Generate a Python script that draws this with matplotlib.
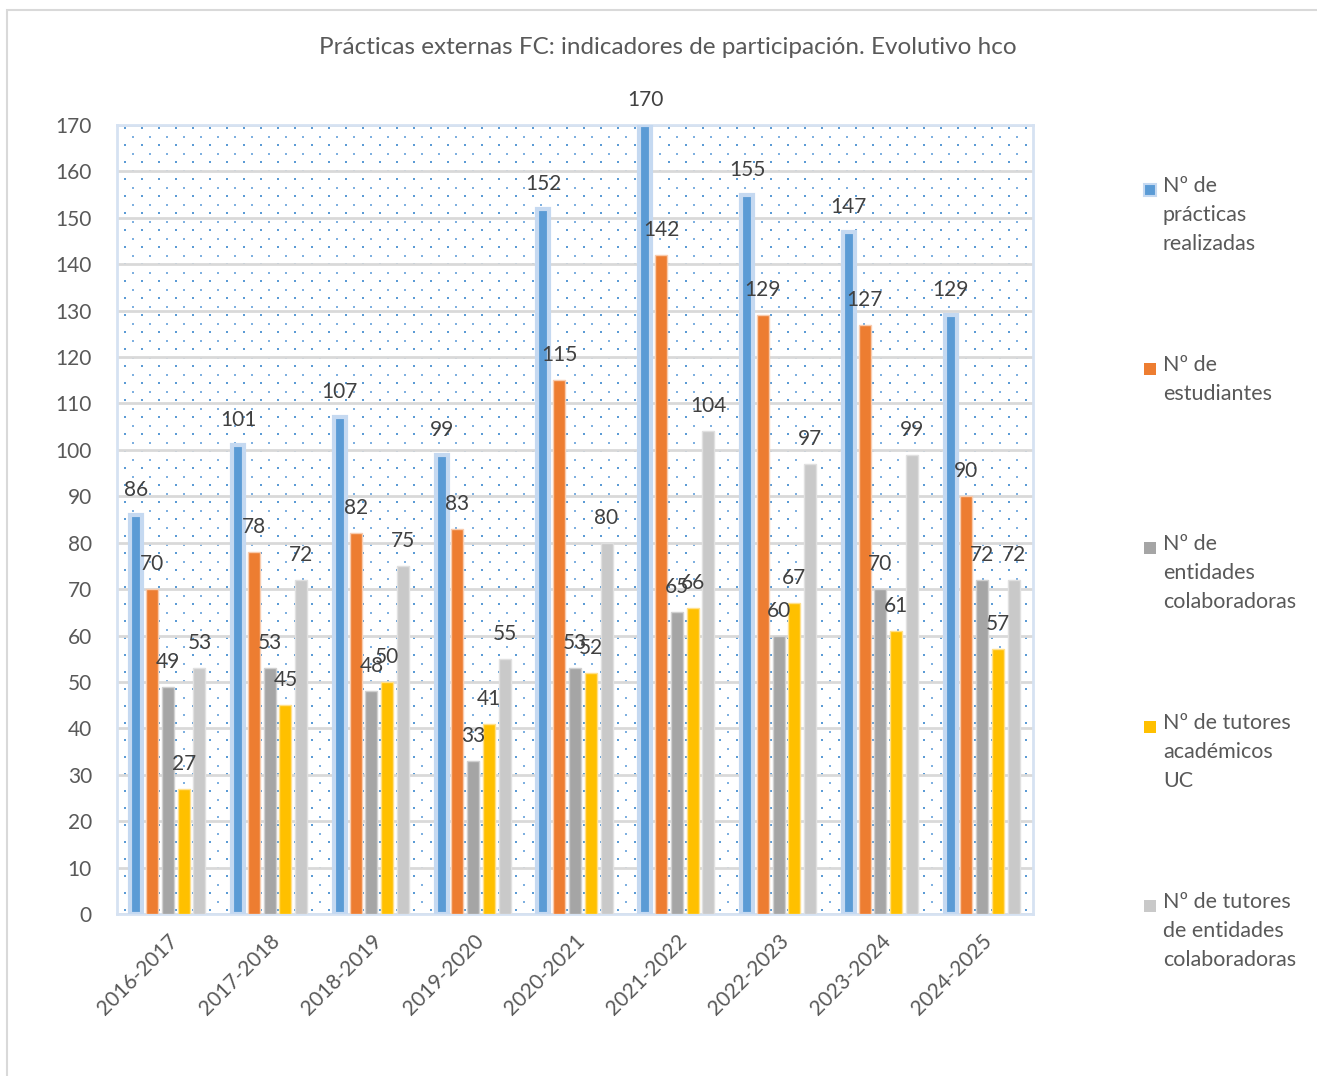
import numpy as np
import matplotlib.pyplot as plt
from matplotlib.patches import Rectangle

plt.rcParams['font.family'] = ['Lato', 'DejaVu Sans']

# Data
cursos = ['2016-2017', '2017-2018', '2018-2019', '2019-2020', '2020-2021',
          '2021-2022', '2022-2023', '2023-2024', '2024-2025']
practicas = [86, 101, 107, 99, 152, 170, 155, 147, 129]
estudiantes = [70, 78, 82, 83, 115, 142, 129, 127, 90]
entidades = [49, 53, 48, 33, 53, 65, 60, 70, 72]
tutores_uc = [27, 45, 50, 41, 52, 66, 67, 61, 57]
tutores_ent = [53, 72, 75, 55, 80, 104, 97, 99, 72]

series_labels = ['Nº de\nprácticas\nrealizadas', 'Nº de\nestudiantes',
                 'Nº de\nentidades\ncolaboradoras', 'Nº de tutores\nacadémicos\nUC',
                 'Nº de tutores\nde entidades\ncolaboradoras']
colors = ['#5b9bd5', '#ed7d31', '#a5a5a5', '#ffc000', '#c9c9c9']
edges = ['#c5d9f1', '#f8cbad', '#d0d0d0', '#ffe08a', '#e0e0e0']
text_color = '#595959'

series = [practicas, estudiantes, entidades, tutores_uc, tutores_ent]

fig = plt.figure(figsize=(13.17, 10.76), dpi=100)
W, H = 1317, 1076

# outer chart border (only top and left edges fall inside the image)
fig.add_artist(Rectangle((7 / W, -0.1), 1.2, 1.1 - 10 / H, transform=fig.transFigure,
                         fill=False, edgecolor='#d9d9d9', linewidth=1.5))

ax = fig.add_axes([117 / W, 1 - 914 / H, (1033 - 117) / W, (914 - 125) / H])

# dotted background texture
gx, gy = np.meshgrid(np.arange(0.0085, 1, 17 / 916), np.arange(0.005, 1, 17 / 789))
ax.scatter(gx.ravel(), gy.ravel(), s=2.2, marker='s', color='#5b9bd5', linewidths=0,
           transform=ax.transAxes, zorder=0)
ax.scatter((gx + 8.5 / 916).ravel(), (gy + 8.5 / 789).ravel(), s=1.5, marker='s',
           color='#7fb0e0', linewidths=0, transform=ax.transAxes, zorder=0)

x = np.arange(len(cursos))
pitch = 0.155
width = 0.118
for i, (vals, c, e) in enumerate(zip(series, colors, edges)):
    pos = x + (i - 2) * pitch
    lw = 3 if i == 0 else 1
    ax.bar(pos, vals, width=width, color=c, edgecolor=e, linewidth=lw, zorder=3)
    for px, v in zip(pos, vals):
        ax.annotate(str(v), (px, v), xytext=(0, 18), textcoords='offset points',
                    ha='center', va='center', fontsize=15, color='#404040',
                    annotation_clip=False, zorder=5)

ax.set_xlim(-0.5, len(cursos) - 0.5)
ax.set_ylim(0, 170)
ax.set_yticks(np.arange(0, 171, 10))
ax.yaxis.grid(True, color='#d9d9d9', linewidth=2, zorder=1)
ax.set_axisbelow(True)
ax.set_xticks(x)
ax.set_xticklabels(cursos, rotation=45, ha='right', rotation_mode='anchor')
ax.tick_params(axis='both', length=0, labelsize=15, labelcolor=text_color)
ax.tick_params(axis='y', pad=18)
ax.tick_params(axis='x', pad=12)
for s in ax.spines.values():
    s.set_color('#d6e2f2')
    s.set_linewidth(2)

fig.text(668 / W, 1 - 48 / H, 'Prácticas externas FC: indicadores de participación. Evolutivo hco',
         ha='center', va='center', fontsize=17.5, color=text_color)

# legend drawn by hand, evenly spaced like the original
for i, (lab, c, e) in enumerate(zip(series_labels, colors, edges)):
    ytop = 1 - (176 + 179 * i) / H
    fig.add_artist(Rectangle((1144 / W, ytop - 20 / H), 12 / W, 12 / H,
                             transform=fig.transFigure, facecolor=c,
                             edgecolor=e, linewidth=1.5 if i == 0 else 0))
    fig.text(1163 / W, ytop, lab, ha='left', va='top', fontsize=15.5,
             color=text_color, linespacing=1.55)

fig.savefig('out.png', dpi=100)
